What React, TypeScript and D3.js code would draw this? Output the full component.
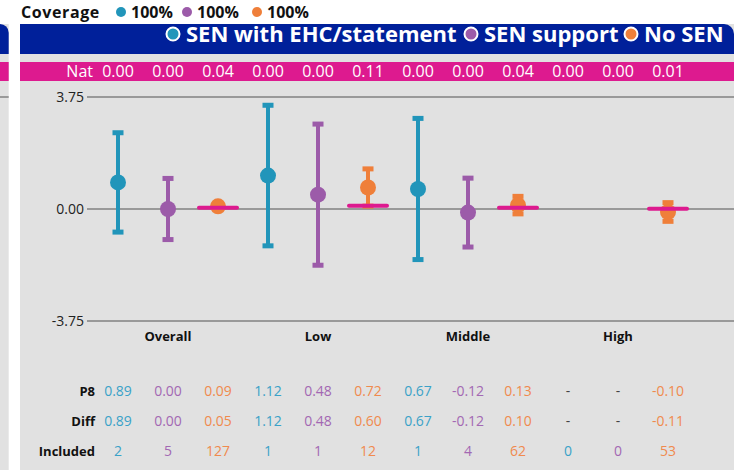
import React from 'react';
import * as d3 from 'd3';

// chart data
const categories = ['Overall', 'Low', 'Middle', 'High'];
const seriesNames = ['SEN with EHC/statement', 'SEN support', 'No SEN'];
const seriesKeys = ['ehc', 'support', 'none'];

const p8Ehc = [0.89, 1.12, 0.67, null];
const p8Support = [0.0, 0.48, -0.12, null];
const p8None = [0.09, 0.72, 0.13, -0.1];

const diffEhc = [0.89, 1.12, 0.67, null];
const diffSupport = [0.0, 0.48, -0.12, null];
const diffNone = [0.05, 0.6, 0.1, -0.11];

const ciEhc = [1.68, 2.37, 2.38, null];
const ciSupport = [1.04, 2.38, 1.17, null];
const ciNone = [0.05, 0.64, 0.31, 0.33];

const natEhc = [0.0, 0.0, 0.0, 0.0];
const natSupport = [0.0, 0.0, 0.0, 0.0];
const natNone = [0.04, 0.11, 0.04, 0.01];

const includedEhc = [2, 1, 1, 0];
const includedSupport = [5, 1, 4, 0];
const includedNone = [127, 12, 62, 53];

const coverage = ['100%', '100%', '100%'];
const yTicks = [-3.75, 0, 3.75];

const W = 737;
const H = 470;

const markColor = ['#2195ba', '#9c5ba9', '#ef7f3a'];
const textColor = ['#3aa2c8', '#a368b3', '#f08a4e'];
const navy = '#00209a';
const pink = '#dd1a8f';
const panelGray = '#e1e1e1';
const font = '"Open Sans", sans-serif';

const p8 = [p8Ehc, p8Support, p8None];
const diff = [diffEhc, diffSupport, diffNone];
const ci = [ciEhc, ciSupport, ciNone];
const nat = [natEhc, natSupport, natNone];
const included = [includedEhc, includedSupport, includedNone];

// plain hyphen for negatives, like the reference
const fmt = d3.formatLocale({ decimal: '.', thousands: ',', grouping: [3], currency: ['', ''], minus: '-' }).format('.2f');

const App = () => {
  const y = d3.scaleLinear().domain([-3.75, 3.75]).range([321, 97]);
  const xGroup = d3.scaleBand().domain(categories).range([93, 693]);
  const xInner = d3.scalePoint().domain(seriesKeys).range([25, 125]);
  const cx = (ci: number, si: number) => (xGroup(categories[ci]) as number) + (xInner(seriesKeys[si]) as number);

  const cells: { ci: number; si: number }[] = [];
  categories.forEach((_, c) => seriesKeys.forEach((_, s) => cells.push({ ci: c, si: s })));

  const rows = [
    { label: 'P8', y: 396, get: (c: number, s: number) => (p8[s][c] == null ? '-' : fmt(p8[s][c] as number)) },
    { label: 'Diff', y: 426, get: (c: number, s: number) => (diff[s][c] == null ? '-' : fmt(diff[s][c] as number)) },
    { label: 'Included', y: 456, get: (c: number, s: number) => String(included[s][c]) },
  ];

  // legend positions along the header
  const legendX = [173, 471, 631];
  const coverageX = [121, 187, 257];

  return (
    <svg width={W} height={H} style={{ position: 'absolute', left: 0, top: 0 }} fontFamily={font}>
      <rect width={W} height={H} fill="#fff" />

      {/* neighbouring panel on the left */}
      <rect x={0} y={24} width={8.7} height={H - 24} fill={panelGray} />
      <path d="M0,24 H0 A8.7,8.7 0 0 1 8.7,32.7 V54 H0 Z" fill={navy} />
      <rect x={0} y={62} width={8.7} height={19} fill={pink} />
      <line x1={0} x2={8.7} y1={y(3.75)} y2={y(3.75)} stroke="#999" strokeWidth={2} />

      {/* main panel */}
      <rect x={20} y={24} width={714} height={H - 24} fill={panelGray} />
      <path d="M20,24 H724 A10,10 0 0 1 734,34 V54 H20 Z" fill={navy} />
      <rect x={20} y={62} width={714} height={19} fill={pink} />

      {/* coverage row */}
      <text x={21} y={18} fontSize={16} fontWeight="bold" fill="#111" letterSpacing={0.6}>Coverage</text>
      {coverageX.map((x, i) => (
        <g key={i}>
          <circle cx={x} cy={12} r={5} fill={markColor[i]} />
          <text x={x + 10} y={18} fontSize={16} fontWeight="bold" fill="#111">{coverage[i]}</text>
        </g>
      ))}

      {/* header legend */}
      {seriesNames.map((name, i) => (
        <g key={name}>
          <circle cx={legendX[i]} cy={34} r={6.5} fill={markColor[i]} stroke="#fff" strokeWidth={2} />
          <text x={legendX[i] + 13} y={42} fontSize={22} fontWeight="bold" fill="#fff">{name}</text>
        </g>
      ))}

      {/* national averages */}
      <text x={93} y={77} fontSize={16} fill="#fff" textAnchor="end">Nat</text>
      {cells.map(({ ci: c, si: s }) => (
        <text key={`n${c}${s}`} x={cx(c, s)} y={77} fontSize={16} fill="#fff" textAnchor="middle">
          {fmt(nat[s][c])}
        </text>
      ))}

      {/* grid + y ticks */}
      {yTicks.map((t) => (
        <g key={t}>
          <line x1={87} x2={734} y1={y(t)} y2={y(t)} stroke="#999" strokeWidth={2} />
          <text x={84} y={y(t) + 5} fontSize={14} fill="#222" textAnchor="end">{fmt(t)}</text>
        </g>
      ))}

      {/* error bars and points */}
      {cells.map(({ ci: c, si: s }) => {
        const v = p8[s][c];
        const e = ci[s][c];
        if (v == null || e == null) return null;
        const x = cx(c, s);
        const top = y(v + e);
        const bot = y(v - e);
        return (
          <g key={`m${c}${s}`} fill={markColor[s]}>
            <line x1={x} x2={x} y1={top} y2={bot} stroke={markColor[s]} strokeWidth={4} />
            <rect x={x - 5.5} y={top - 2} width={11} height={5} />
            <rect x={x - 5.5} y={bot - 3} width={11} height={5} />
            <circle cx={x} cy={y(v)} r={8} />
          </g>
        );
      })}

      {/* national line for No SEN */}
      {categories.map((_, c) => {
        const x = cx(c, 2);
        return (
          <line key={`nl${c}`} x1={x - 19} x2={x + 19} y1={y(nat[2][c])} y2={y(nat[2][c])}
            stroke={pink} strokeWidth={4} strokeLinecap="round" />
        );
      })}

      {/* category labels */}
      {categories.map((c, i) => (
        <text key={c} x={cx(i, 1)} y={341} fontSize={13} fontWeight="bold" fill="#111" textAnchor="middle">{c}</text>
      ))}

      {/* table */}
      {rows.map((r) => (
        <g key={r.label}>
          <text x={95} y={r.y} fontSize={13} fontWeight="bold" fill="#111" textAnchor="end">{r.label}</text>
          {cells.map(({ ci: c, si: s }) => {
            const t = r.get(c, s);
            return (
              <text key={`${r.label}${c}${s}`} x={cx(c, s)} y={r.y} fontSize={14} textAnchor="middle"
                fill={t === '-' ? '#444' : textColor[s]}>
                {t}
              </text>
            );
          })}
        </g>
      ))}
    </svg>
  );
};

export default App;
